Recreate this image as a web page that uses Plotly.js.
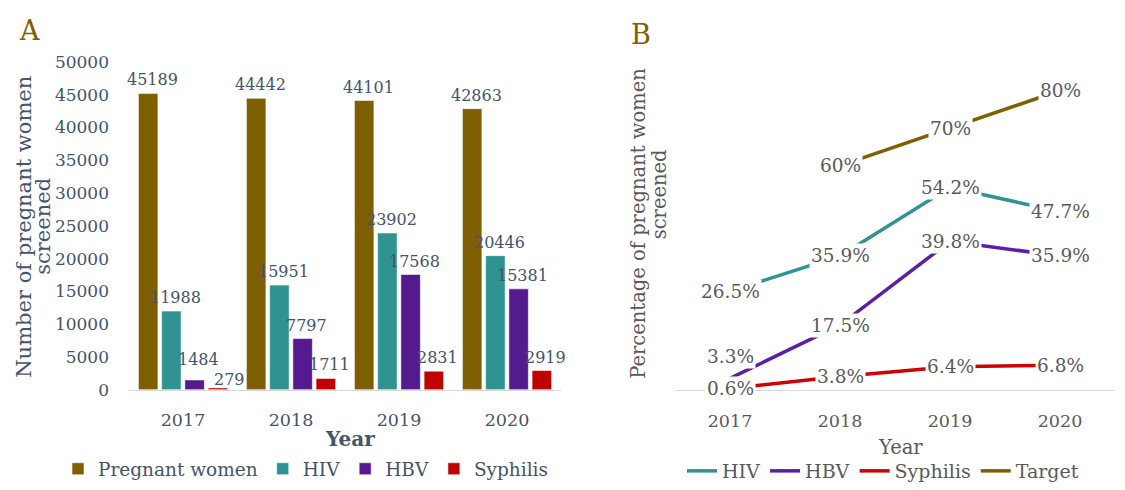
<!DOCTYPE html>
<html>
<head>
<meta charset="utf-8">
<script src="https://cdn.plot.ly/plotly-3.0.1.min.js"></script>
<style>
html,body{margin:0;padding:0;background:#fff;width:1125px;height:490px;overflow:hidden;}
#chart{position:absolute;left:0;top:0;width:1125px;height:490px;overflow:hidden;}
</style>
</head>
<body>
<div id="chart"></div>
<script>
// ---- Data ----
const years = ['2017', '2018', '2019', '2020'];

// Panel A: number of pregnant women screened
const seriesNamesA = ['Pregnant women', 'HIV', 'HBV', 'Syphilis'];
const pregnantWomen = [45189, 44442, 44101, 42863];
const hivCount = [11988, 15951, 23902, 20446];
const hbvCount = [1484, 7797, 17568, 15381];
const syphilisCount = [279, 1711, 2831, 2919];

// Panel B: percentage of pregnant women screened
const seriesNamesB = ['HIV', 'HBV', 'Syphilis', 'Target'];
const hivPct = [26.5, 35.9, 54.2, 47.7];
const hbvPct = [3.3, 17.5, 39.8, 35.9];
const syphilisPct = [0.6, 3.8, 6.4, 6.8];
const targetPct = [null, 60, 70, 80];

const yTicksA = [0, 5000, 10000, 15000, 20000, 25000, 30000, 35000, 40000, 45000, 50000];

// ---- Styles ----
const FONT = 'DejaVu Serif, Georgia, serif';
const colA = '#44546A';
const colB = '#595959';
const cPW = '#7F6000', cHIV = '#2E9391', cHBV = '#541B8F', cSyp = '#C00000';
const cHBVline = '#5A1FA3', cSypLine = '#D00000';
const W = 1125, H = 490;
const px = x => x / W;
const py = y => 1 - y / H;
const BARGAP = 0.14, BARGROUPGAP = 0.16;

const countsA = [pregnantWomen, hivCount, hbvCount, syphilisCount];
const colorsA = [cPW, cHIV, cHBV, cSyp];
const pctB = [hivPct, hbvPct, syphilisPct, targetPct];
const colorsB = [cHIV, cHBVline, cSypLine, cPW];

const data = [];
countsA.forEach((vals, s) => {
  data.push({
    type: 'bar', name: seriesNamesA[s], x: years, y: vals,
    xaxis: 'x', yaxis: 'y', legend: 'legend',
    marker: {color: colorsA[s], line: {color: 'rgba(255,255,255,0.7)', width: 0.8}},
    hoverinfo: 'skip'
  });
});
pctB.forEach((vals, s) => {
  data.push({
    type: 'scatter', mode: 'lines', name: seriesNamesB[s], x: years, y: vals,
    xaxis: 'x2', yaxis: 'y2', legend: 'legend2', showlegend: true,
    line: {color: colorsB[s], width: 3.5}, connectgaps: false, hoverinfo: 'skip'
  });
});

const annotations = [];

// data labels for panel A (placed over each grouped bar)
const slotW = (1 - BARGAP) / countsA.length;
countsA.forEach((vals, s) => {
  vals.forEach((v, i) => {
    const next = countsA[s + 1];
    const tiny = v < 1000;
    const besideTiny = next && next[i] < 1000;
    annotations.push({
      xref: 'x', yref: 'y', x: i + (s - (countsA.length - 1) / 2) * slotW, y: v,
      text: String(v), showarrow: false,
      font: {family: FONT, size: 16, color: colA},
      xanchor: 'center', yanchor: 'bottom',
      xshift: tiny ? 12 : 4, yshift: tiny ? -3 : (besideTiny ? 9 : 2)
    });
  });
});

// data labels for panel B (white boxes over the lines)
pctB.forEach((series, s) => {
  series.forEach((v, i) => {
    if (v === null) return;
    const crowded = pctB.some((o, t) => t !== s && o[i] !== null && v > o[i] && v - o[i] < 5);
    annotations.push({
      xref: 'x2', yref: 'y2', x: i, y: v, text: String(v) + '%',
      showarrow: false, bgcolor: '#ffffff', borderpad: 1,
      font: {family: FONT, size: 18.5, color: colB},
      xanchor: 'center', yanchor: 'middle', yshift: crowded ? 22 : 0
    });
  });
});

// panel letters and axis titles
annotations.push(
  {xref: 'paper', yref: 'paper', x: px(29), y: py(31), text: 'A', showarrow: false,
   font: {family: FONT, size: 27, color: cPW}, xanchor: 'center', yanchor: 'middle'},
  {xref: 'paper', yref: 'paper', x: px(641), y: py(35), text: 'B', showarrow: false,
   font: {family: FONT, size: 27, color: cPW}, xanchor: 'center', yanchor: 'middle'},
  {xref: 'paper', yref: 'paper', x: px(24), y: py(231), text: 'Number of pregnant women', textangle: -90,
   showarrow: false, font: {family: FONT, size: 21, color: colA}, xanchor: 'center', yanchor: 'middle'},
  {xref: 'paper', yref: 'paper', x: px(43), y: py(231), text: 'screened', textangle: -90,
   showarrow: false, font: {family: FONT, size: 21, color: colA}, xanchor: 'center', yanchor: 'middle'},
  {xref: 'paper', yref: 'paper', x: px(350), y: py(447), text: '<b>Year</b>', showarrow: false,
   font: {family: FONT, size: 20, color: colA}, xanchor: 'center', yanchor: 'middle'},
  {xref: 'paper', yref: 'paper', x: px(639), y: py(227), text: 'Percentage of pregnant women', textangle: -90,
   showarrow: false, font: {family: FONT, size: 19.5, color: colB}, xanchor: 'center', yanchor: 'middle'},
  {xref: 'paper', yref: 'paper', x: px(659), y: py(198), text: 'screened', textangle: -90,
   showarrow: false, font: {family: FONT, size: 19.5, color: colB}, xanchor: 'center', yanchor: 'middle'},
  {xref: 'paper', yref: 'paper', x: px(900), y: py(456), text: 'Year', showarrow: false,
   font: {family: FONT, size: 19.5, color: colB}, xanchor: 'center', yanchor: 'middle'}
);

const layout = {
  width: W, height: H,
  margin: {l: 0, r: 0, t: 0, b: 0},
  paper_bgcolor: '#ffffff', plot_bgcolor: 'rgba(0,0,0,0)',
  font: {family: FONT},
  barmode: 'group', bargap: BARGAP, bargroupgap: BARGROUPGAP,
  xaxis: {
    domain: [px(129), px(561)], type: 'category', categoryarray: years, categoryorder: 'array',
    range: [-0.5, 3.5],
    showline: true, linecolor: '#D9D9D9', linewidth: 1.5, ticks: '', showgrid: false, zeroline: false,
    tickfont: {family: FONT, size: 17.5, color: colA}, ticklabelstandoff: 14, fixedrange: true
  },
  yaxis: {
    domain: [py(397), py(63)], range: [0, 50000], tickvals: yTicksA, ticktext: yTicksA.map(String),
    showline: false, showgrid: false, zeroline: false, ticks: '',
    tickfont: {family: FONT, size: 17, color: colA}, ticklabelstandoff: 19, fixedrange: true
  },
  xaxis2: {
    domain: [px(675), px(1115)], type: 'category', categoryarray: years, categoryorder: 'array',
    range: [-0.5, 3.5],
    anchor: 'y2', showline: false, ticks: '', showgrid: false, zeroline: false,
    tickfont: {family: FONT, size: 17.5, color: colB}, ticklabelstandoff: 18, fixedrange: true
  },
  yaxis2: {
    domain: [py(398), py(54)], range: [0, 90], anchor: 'x2',
    showticklabels: false, showgrid: false, zeroline: true, zerolinecolor: '#D9D9D9', zerolinewidth: 1.5,
    showline: false, ticks: '', fixedrange: true
  },
  legend: {
    orientation: 'h', x: px(306), xanchor: 'center', y: py(478), yanchor: 'middle',
    font: {family: FONT, size: 18.5, color: colA}, itemwidth: 30, traceorder: 'normal',
    bgcolor: 'rgba(0,0,0,0)'
  },
  legend2: {
    orientation: 'h', x: px(883), xanchor: 'center', y: py(480), yanchor: 'middle',
    font: {family: FONT, size: 19, color: colB}, itemwidth: 30, traceorder: 'normal',
    bgcolor: 'rgba(0,0,0,0)'
  },
  annotations: annotations,
  showlegend: true
};

Plotly.newPlot('chart', data, layout, {staticPlot: true, displayModeBar: false});
</script>
</body>
</html>
